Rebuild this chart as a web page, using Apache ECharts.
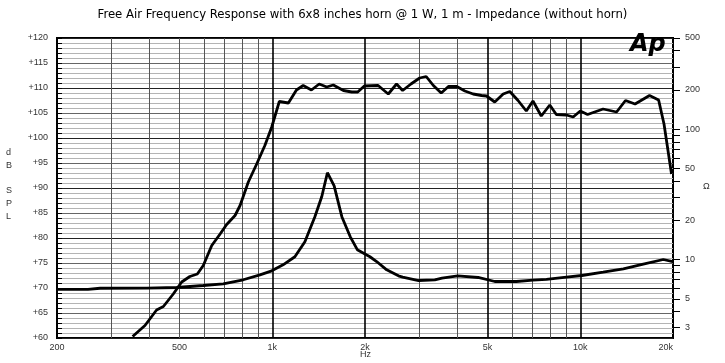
<!DOCTYPE html>
<html><head><meta charset="utf-8">
<script src="https://cdn.jsdelivr.net/npm/echarts@6/dist/echarts.min.js"></script>
<style>html,body{margin:0;padding:0;background:#fff}#c{width:725px;height:363px}</style>
</head><body><div id="c"></div>
<script>
// SPL curve (Hz, dB SPL)
const splFreq = [352,386,421,443,477,508,540,571,597,636,677,711,757,786,836,890,946,996,1054,1128,1198,1260,1340,1420,1502,1578,1702,1812,1894,1990,2206,2380,2532,2650,2820,3010,3160,3334,3536,3732,3972,4220,4490,4780,4960,5276,5620,5904,6280,6680,7020,7470,7960,8360,9020,9480,10000,10560,11860,13120,14020,15060,16780,17960,18700,19780];
const splDb = [60.3,62.5,65.6,66.3,68.8,71.2,72.3,72.8,74.5,78.5,80.8,82.7,84.5,86.5,91.2,94.8,98.5,102.2,107.3,107.0,109.6,110.5,109.6,110.8,110.2,110.6,109.5,109.2,109.2,110.4,110.5,108.8,110.8,109.5,110.8,112.0,112.3,110.5,109.0,110.3,110.3,109.4,108.8,108.5,108.4,107.2,108.8,109.3,107.5,105.4,107.4,104.4,106.6,104.7,104.6,104.2,105.4,104.7,105.8,105.2,107.5,106.8,108.5,107.6,102.8,92.8];
// Impedance curve (Hz, Ohm)
const impFreq = [200,252,276,391,489,597,693,805,912,996,1084,1184,1276,1375,1448,1510,1588,1682,1790,1888,2075,2182,2352,2568,2650,2986,3370,3556,4000,4660,5276,6200,7020,7760,9020,10120,11860,13800,16020,18600,19960];
const impOhm = [5.91,5.91,6.02,6.04,6.10,6.32,6.51,6.99,7.63,8.19,9.10,10.5,13.7,21.3,30.4,46.3,36.7,21.3,15.0,11.9,10.5,9.65,8.33,7.5,7.33,6.90,6.99,7.20,7.5,7.28,6.78,6.78,6.95,7.03,7.33,7.54,8.0,8.49,9.22,10.0,9.65];
// Axis ticks
const xLabelTicks = [200,500,1000,2000,5000,10000,20000];
const xMinorGrid = [300,400,500,600,700,800,900,3000,4000,6000,7000,8000,9000];
const xMajorGrid = [1000,2000,5000,10000];
const ohmRange = [2.5, 500];
const ohmLabelTicks = [3,5,10,20,50,100,200,500];
const ohmTicks = [3,4,5,6,7,8,9,10,20,30,40,50,60,70,80,90,100,200,300,400,500];
const titleText = 'Free Air Frequency Response with 6x8 inches horn @ 1 W, 1 m - Impedance (without horn)';

const lg = Math.log10;
const chart = echarts.init(document.getElementById('c'), null, {renderer:'canvas'});
const lblFont = {color:'#333', fontSize:9, fontFamily:'Liberation Sans, Arial, sans-serif'};
const fmtHz = v => { v = Math.round(v); return v >= 1000 ? (v/1000) + 'k' : String(v); };

chart.setOption({
  animation:false,
  backgroundColor:'#fff',
  title:{text:titleText, left:'center', top:3,
    textStyle:{fontFamily:'Liberation Sans Narrow, DejaVu Sans Condensed, sans-serif', fontSize:13, fontWeight:'normal', color:'#000'}},
  grid:{left:57, right:52, top:38, bottom:25, show:true, borderColor:'#000', borderWidth:2, backgroundColor:'#fff', containLabel:false, outerBoundsMode:'none'},
  xAxis:[
    {type:'log', logBase:10, min:200, max:20000,
     axisLine:{show:false},
     axisTick:{show:false, customValues:xMinorGrid},
     axisLabel:Object.assign({customValues:xLabelTicks, formatter:fmtHz, margin:5, alignMaxLabel:'right'}, lblFont),
     splitLine:{show:true, lineStyle:{color:'#555', width:1}}},
    {type:'log', logBase:10, min:200, max:20000, position:'top',
     axisLine:{show:false},
     axisTick:{show:false, customValues:xMajorGrid},
     axisLabel:{show:false},
     splitLine:{show:true, lineStyle:{color:'#000', width:1.6}}}
  ],
  yAxis:[
    {type:'value', min:60, max:120, interval:5, position:'left',
     axisLine:{show:false},
     axisTick:{show:true, inside:true, length:5, lineStyle:{color:'#000', width:1}},
     minorTick:{show:true, splitNumber:5, length:5, lineStyle:{color:'#000', width:1}},
     axisLabel:Object.assign({formatter:v => '+' + v, margin:9}, lblFont),
     splitLine:{show:true, lineStyle:{color:['#222','#666'], width:1}},
     minorSplitLine:{show:true, lineStyle:{color:'#b4b4b4', width:1}}},
    // impedance axis: logarithmic (decade) scale expressed as log10(Ohm)
    {type:'value', min:lg(ohmRange[0]), max:lg(ohmRange[1]), position:'right',
     axisLine:{show:false},
     axisTick:{show:true, inside:false, length:7, customValues:ohmTicks.map(lg), lineStyle:{color:'#000', width:1}},
     axisLabel:Object.assign({customValues:ohmLabelTicks.map(lg), margin:12, formatter:v => String(Math.round(Math.pow(10, v)))}, lblFont),
     splitLine:{show:false}}
  ],
  graphic:[
    {type:'text', left:6, top:146, style:{text:'d\nB\n\nS\nP\nL', fill:'#333', font:'9px Liberation Sans', lineHeight:12.8, align:'center'}},
    {type:'text', left:703, top:182, style:{text:'Ω', fill:'#333', font:'9px Liberation Sans'}},
    {type:'text', left:360, top:350, style:{text:'Hz', fill:'#333', font:'9px Liberation Sans'}},
    {type:'text', left:630, top:33, z:10, style:{text:'Ap', fill:'#000', font:'italic 900 24px DejaVu Sans'}}
  ],
  series:[
    {type:'line', name:'SPL', xAxisIndex:0, yAxisIndex:0, showSymbol:false, symbol:'none',
     data:splFreq.map((f,i)=>[f, splDb[i]]), lineStyle:{color:'#000', width:2.8}, clip:true},
    {type:'line', name:'Impedance', xAxisIndex:0, yAxisIndex:1, showSymbol:false, symbol:'none',
     data:impFreq.map((f,i)=>[f, lg(impOhm[i])]), lineStyle:{color:'#000', width:2.8}, clip:true}
  ]
});
</script></body></html>
